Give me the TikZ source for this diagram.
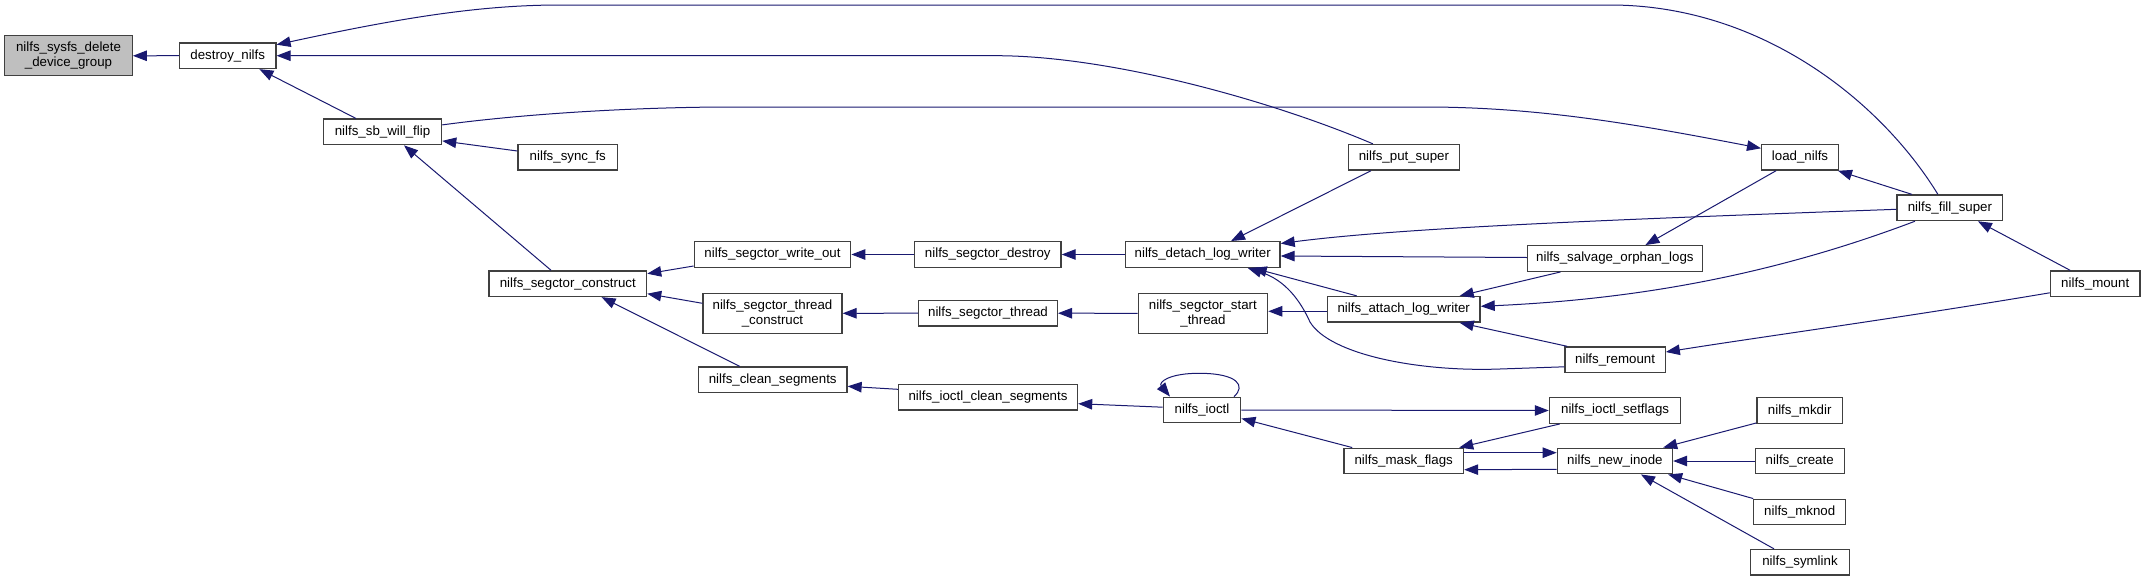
\documentclass[tikz,border=0pt]{standalone}
\usepackage{fontspec}
\setmainfont{Liberation Sans}
\usetikzlibrary{arrows.meta,calc}
\definecolor{edgeblue}{HTML}{191970}
\definecolor{nodegray}{HTML}{BFBFBF}
\begin{document}
\begin{tikzpicture}[x=1pt,y=-1pt,
  box/.style={draw=black!75, line width=1.3pt, fill=white, inner sep=0pt,
    minimum height=25.6pt, align=center, font=\fontsize{13.3}{15}\selectfont},
  twoline/.style={minimum height=40pt},
  call/.style={draw=edgeblue, line width=1pt, {Triangle[length=14pt,width=10.5pt]}-}]
\fill[white] (0,0) rectangle (2145,581);
\useasboundingbox (0,0) rectangle (2145,581);

% nodes
\node[box,twoline,fill=nodegray,minimum width=127.5pt] (n1) at (68.5,55.8) {nilfs\_sysfs\_delete\\\_device\_group};
\node[box,minimum width=96.5pt] (destroy) at (227.7,55.7) {destroy\_nilfs};
\node[box,minimum width=118.2pt] (sbflip) at (382.5,131.9) {nilfs\_sb\_will\_flip};
\node[box,minimum width=99.6pt] (syncfs) at (567.8,157.3) {nilfs\_sync\_fs};
\node[box,minimum width=157.6pt] (construct) at (567.8,283.7) {nilfs\_segctor\_construct};
\node[box,minimum width=156.4pt] (writeout) at (772.5,254.5) {nilfs\_segctor\_write\_out};
\node[box,twoline,minimum width=139pt] (threadcons) at (772.5,313.3) {nilfs\_segctor\_thread\\\_construct};
\node[box,minimum width=148.6pt] (cleanseg) at (772.7,379.8) {nilfs\_clean\_segments};
\node[box,minimum width=146.5pt] (sdestroy) at (987.8,254.5) {nilfs\_segctor\_destroy};
\node[box,minimum width=138.7pt] (sthread) at (988,313.2) {nilfs\_segctor\_thread};
\node[box,minimum width=179.1pt] (iclean) at (988,397.3) {nilfs\_ioctl\_clean\_segments};
\node[box,minimum width=154.7pt] (detach) at (1202.7,254.5) {nilfs\_detach\_log\_writer};
\node[box,twoline,minimum width=129.5pt] (startthread) at (1202.9,313.3) {nilfs\_segctor\_start\\\_thread};
\node[box,minimum width=77.6pt] (ioctl) at (1202,410) {nilfs\_ioctl};
\node[box,minimum width=111pt] (putsuper) at (1403.9,157.3) {nilfs\_put\_super};
\node[box,minimum width=152.8pt] (attach) at (1403.7,309.3) {nilfs\_attach\_log\_writer};
\node[box,minimum width=119.7pt] (maskflags) at (1403.7,461) {nilfs\_mask\_flags};
\node[box,minimum width=175pt] (salvage) at (1614.9,258.5) {nilfs\_salvage\_orphan\_logs};
\node[box,minimum width=100.2pt] (remount) at (1615.1,359.8) {nilfs\_remount};
\node[box,minimum width=131.4pt] (setflags) at (1615.1,410.5) {nilfs\_ioctl\_setflags};
\node[box,minimum width=115.2pt] (newinode) at (1614.9,461) {nilfs\_new\_inode};
\node[box,minimum width=76.7pt] (loadnilfs) at (1800,157.3) {load\_nilfs};
\node[box,minimum width=85.4pt] (mkdir) at (1799.7,410.5) {nilfs\_mkdir};
\node[box,minimum width=89pt] (create) at (1799.7,461) {nilfs\_create};
\node[box,minimum width=91.8pt] (mknod) at (1799.7,512) {nilfs\_mknod};
\node[box,minimum width=98.7pt] (symlink) at (1800,562.3) {nilfs\_symlink};
\node[box,minimum width=105.7pt] (fillsuper) at (1949.9,207.8) {nilfs\_fill\_super};
\node[box,minimum width=89.6pt] (mount) at (2095.2,283.8) {nilfs\_mount};

% edges (tip at the first end)
\draw[call] (n1.east) -- (destroy.west);
\draw[call] ($(destroy.east)+(0,-11)$) .. controls (400,18) and (480,5) .. (560,5)
  -- (1610,5) .. controls (1760,5) and (1880,100) .. ($(fillsuper.north)+(-12,0)$);
\draw[call] (destroy.east) -- (997,55.7) .. controls (1110,56) and (1270,100) .. ($(putsuper.north)+(-31,0)$);
\draw[call] ($(destroy.south)+(31.7,0)$) -- ($(sbflip.north)+(-26.5,0)$);
\draw[call] ($(sbflip.east)+(0,9)$) -- ($(syncfs.west)+(0,-6.3)$);
\draw[call] ($(sbflip.south)+(21.5,0)$) -- ($(construct.north)+(-16.8,0)$);
\draw[call] ($(loadnilfs.west)+(0,-9)$) .. controls (1640,125) and (1540,107) .. (1425,107)
  -- (720,107) .. controls (600,108) and (500,117) .. ($(sbflip.east)+(0,-7)$);
\draw[call] ($(loadnilfs.south east)+(-1,0)$) -- ($(fillsuper.north)+(-38,0)$);
\draw[call] ($(salvage.north)+(30.5,0)$) -- ($(loadnilfs.south)+(-24,0)$);
\draw[call] ($(fillsuper.south)+(28,0)$) -- ($(mount.north)+(-25,0)$);
\draw[call] ($(remount.east)+(0,-7.8)$) .. controls (1760,337) and (1900,318) .. ($(mount.west)+(0,9)$);
\draw[call] ($(detach.north)+(28.3,0)$) -- ($(putsuper.south)+(-33,0)$);
\draw[call] ($(detach.east)+(0,-11)$) .. controls (1400,228) and (1600,220) .. ($(fillsuper.west)+(0,1.5)$);
\draw[call] ($(detach.east)+(0,1.5)$) -- ($(salvage.west)+(0,-1)$);
\draw[call] ($(detach.south)+(50,0)$) -- ($(attach.north)+(-47,0)$);
\draw[call] ($(detach.south)+(45,0)$) .. controls (1285,280) and (1300,300) .. (1310,322)
  .. controls (1330,355) and (1420,372) .. (1500,369) -- ($(remount.west)+(0,7)$);
\draw[call] ($(startthread.east)+(0,-2)$) -- ($(attach.west)+(0,2)$);
\draw[call] ($(attach.north)+(56,0)$) -- ($(salvage.south)+(-54.4,0)$);
\draw[call] ($(attach.east)+(0,-3)$) .. controls (1620,300) and (1760,280) .. ($(fillsuper.south)+(-35,0)$);
\draw[call] ($(attach.south)+(56,0)$) -- ($(remount.north west)+(3,0)$);
\draw[call] (writeout.east) -- (sdestroy.west);
\draw[call] (sdestroy.east) -- (detach.west);
\draw[call] ($(construct.east)+(0,-10)$) -- ($(writeout.west)+(0,11.5)$);
\draw[call] ($(construct.east)+(0,10)$) -- ($(threadcons.west)+(0,-10)$);
\draw[call] ($(construct.south)+(33.8,0)$) -- ($(cleanseg.north)+(-33,0)$);
\draw[call] (threadcons.east) -- (sthread.west);
\draw[call] (sthread.east) -- (startthread.west);
\draw[call] ($(cleanseg.east)+(0,6.5)$) -- ($(iclean.west)+(0,-8)$);
\draw[call] ($(iclean.east)+(0,6.4)$) -- ($(ioctl.west)+(0,-2.8)$);
\draw[call] ($(ioctl.north)+(-32,0)$) .. controls (1158,382) and (1170,373) .. (1200,373.3)
  .. controls (1238,373.5) and (1246,386) .. ($(ioctl.north)+(32,0)$);
\draw[call] (setflags.west) -- (ioctl.east);
\draw[call] ($(ioctl.east)+(0,8.5)$) -- ($(maskflags.north west)+(9,0)$);
\draw[call] ($(maskflags.north east)+(-5,0)$) -- ($(setflags.south west)+(11,0)$);
\draw[call] ($(newinode.west)+(0,-8.3)$) -- ($(maskflags.east)+(0,-8.3)$);
\draw[call] ($(maskflags.east)+(0,8.7)$) -- ($(newinode.west)+(0,8.3)$);
\draw[call] ($(newinode.north east)+(-10,0)$) -- ($(mkdir.south west)+(0,-1)$);
\draw[call] (newinode.east) -- (create.west);
\draw[call] ($(newinode.south east)+(-5,0)$) -- (mknod.north west);
\draw[call] ($(newinode.south)+(26,0)$) -- ($(symlink.north)+(-26,0)$);
\end{tikzpicture}
\end{document}
